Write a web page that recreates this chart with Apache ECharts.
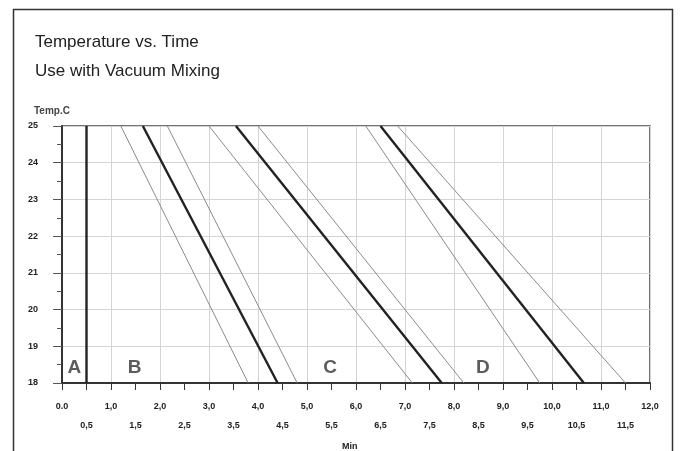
<!DOCTYPE html>
<html>
<head>
<meta charset="utf-8">
<script src="https://cdn.jsdelivr.net/npm/echarts@6/dist/echarts.min.js"></script>
<style>
  html, body { margin: 0; padding: 0; background: #fff; }
  #chart { width: 683px; height: 451px; }
</style>
</head>
<body>
<div id="chart"></div>
<script>
// ---- Data ----
const titleLines = ['Temperature vs. Time', 'Use with Vacuum Mixing'];
const yAxisName = 'Temp.C';
const xAxisName = 'Min';
const tempTop = 25;
const tempBottom = 18;
const xMin = 0, xMax = 12;
const intTickLabels = ['0.0', '1,0', '2,0', '3,0', '4,0', '5,0', '6,0', '7,0', '8,0', '9,0', '10,0', '11,0', '12,0'];
const halfTickLabels = ['0,5', '1,5', '2,5', '3,5', '4,5', '5,5', '6,5', '7,5', '8,5', '9,5', '10,5', '11,5'];
const groupNames = ['A', 'B', 'C', 'D'];
// time (min) where each line meets 25 °C and 18 °C
const thickTop    = [0.5, 1.65, 3.55, 6.5];
const thickBottom = [0.5, 4.4, 7.75, 10.65];
const thinLeftTop     = [null, 1.2, 3.0, 6.2];
const thinLeftBottom  = [null, 3.8, 7.15, 9.75];
const thinRightTop    = [null, 2.15, 4.0, 6.85];
const thinRightBottom = [null, 4.8, 8.2, 11.5];
// positions of group letters (min, °C)
const letterX = [0.25, 1.48, 5.47, 8.59];
const letterY = [18.41, 18.41, 18.41, 18.41];

// ---- Chart ----
const chart = echarts.init(document.getElementById('chart'), null, { renderer: 'canvas' });
const series = [];
groupNames.forEach((g, i) => {
  if (thinLeftTop[i] !== null) {
    series.push({ type: 'line', name: g + ' min', xAxisIndex: 0, yAxisIndex: 0, symbol: 'none', silent: true,
      lineStyle: { color: '#8a8a8a', width: 1 },
      data: [[thinLeftTop[i], tempTop], [thinLeftBottom[i], tempBottom]] });
    series.push({ type: 'line', name: g + ' max', xAxisIndex: 0, yAxisIndex: 0, symbol: 'none', silent: true,
      lineStyle: { color: '#8a8a8a', width: 1 },
      data: [[thinRightTop[i], tempTop], [thinRightBottom[i], tempBottom]] });
  }
  series.push({ type: 'line', name: g, xAxisIndex: 0, yAxisIndex: 0, symbol: 'none', silent: true,
    lineStyle: { color: '#222', width: 2.4 },
    data: [[thickTop[i], tempTop], [thickBottom[i], tempBottom]] });
});
series.push({
  type: 'scatter', name: 'letters', xAxisIndex: 0, yAxisIndex: 0, symbolSize: 0, silent: true,
  data: groupNames.map((g, i) => ({ name: g, value: [letterX[i], letterY[i]] })),
  label: { show: true, position: 'inside', formatter: p => p.name,
    fontFamily: 'Liberation Sans, Arial, sans-serif', fontSize: 19, fontWeight: 'bold', color: '#333' }
});

const axisFont = { fontFamily: 'Liberation Sans, Arial, sans-serif', fontSize: 9, fontWeight: 'bold', color: '#222' };

chart.setOption({
  animation: false,
  backgroundColor: '#fff',
  title: [
    { text: titleLines[0], left: 30, top: 29, textStyle: { fontFamily: 'Liberation Sans, Arial, sans-serif', fontSize: 17, fontWeight: 'normal', color: '#222' } },
    { text: titleLines[1], left: 30, top: 58, textStyle: { fontFamily: 'Liberation Sans, Arial, sans-serif', fontSize: 17, fontWeight: 'normal', color: '#222' } },
    { text: yAxisName, left: 29, top: 101, textStyle: { fontFamily: 'Liberation Sans, Arial, sans-serif', fontSize: 10, fontWeight: 'bold', color: '#444' } },
    { text: xAxisName, left: 337, top: 437, textStyle: { fontFamily: 'Liberation Sans, Arial, sans-serif', fontSize: 9, fontWeight: 'bold', color: '#222' } }
  ],
  graphic: [
    { type: 'rect', shape: { x: 13.5, y: 9.5, width: 659, height: 460 }, style: { fill: null, stroke: '#333', lineWidth: 1.5 }, silent: true }
  ],
  grid: { left: 62, right: 33, top: 126, bottom: 68, show: true, borderColor: '#444', borderWidth: 1.5 },
  xAxis: [
    { type: 'value', min: xMin, max: xMax, interval: 1, position: 'bottom',
      axisLine: { show: true, onZero: false, lineStyle: { color: '#333', width: 2 } },
      axisTick: { show: false },
      splitLine: { show: true, lineStyle: { color: '#d4d4d4', width: 1 } },
      axisLabel: Object.assign({ margin: 19, formatter: v => intTickLabels[Math.round(v)] }, axisFont) },
    { type: 'value', min: xMin, max: xMax, interval: 0.5, position: 'bottom',
      axisLine: { show: false, onZero: false },
      axisTick: { show: true, length: 7, lineStyle: { color: '#333', width: 1 } },
      splitLine: { show: false },
      axisLabel: Object.assign({ margin: 38, formatter: v => {
        const k = Math.round(v * 2);
        return k % 2 === 1 ? halfTickLabels[(k - 1) / 2] : '';
      } }, axisFont) }
  ],
  yAxis: [
    { type: 'value', min: tempBottom, max: tempTop, interval: 1,
      axisLine: { show: true, lineStyle: { color: '#333', width: 2 } },
      axisTick: { show: true, length: 9, lineStyle: { color: '#555', width: 1 } },
      minorTick: { show: true, splitNumber: 2, length: 5, lineStyle: { color: '#555', width: 1 } },
      splitLine: { show: true, lineStyle: { color: '#d4d4d4', width: 1 } },
      axisLabel: Object.assign({ margin: 24 }, axisFont) }
  ],
  series: series
});
</script>
</body>
</html>
